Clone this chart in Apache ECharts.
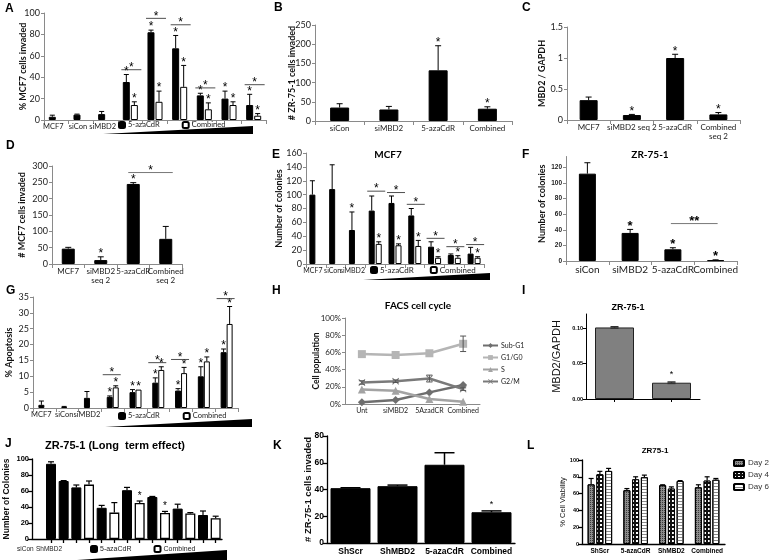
<!DOCTYPE html>
<html><head><meta charset="utf-8">
<script src="https://cdn.jsdelivr.net/npm/echarts@6/dist/echarts.min.js"></script>
<style>html,body{margin:0;padding:0;background:#fff}#c{width:771px;height:560px}</style>
</head><body><div id="c"></div>
<script>
// ================= DATA =================
const A_cats = ['MCF7','siCon','siMBD2','','','','','',''];
const A_aza = [3,5,5.5,35.5,82,67,23,20,14];
const A_azaErr = [1.5,0.5,2.5,7,2,12,2,7,10];
const A_azaSig = [0,0,0,1,1,1,1,1,1];
const A_comb = [null,null,null,14,17,31,10,14,4];
const A_combErr = [null,null,null,3,10,20,6,3,2];
const A_combSig = [0,0,0,1,1,1,1,1,1];
const A_pairSig = [[3,47],[4,95],[5,89],[6,30],[8,33]];
const B_cats = ['siCon','siMBD2','5-azaCdR','Combined'];
const B_vals = [35,30,132,32];
const B_err = [10,8,64,5];
const B_sig = [0,0,1,1];
const C_cats = ['MCF7','siMBD2 seq 2','5-azaCdR','Combined\nseq 2'];
const C_vals = [0.32,0.08,1.0,0.09];
const C_err = [0.05,0.01,0.06,0.03];
const C_sig = [0,1,1,1];
const D_cats = ['MCF7','siMBD2\nseq 2','5-azaCdR','Combined\nseq 2'];
const D_vals = [47,12,245,77];
const D_err = [4,10,4,38];
const D_sig = [0,1,1,0];
const D_bracket = [[2,3,280,'*']];
const E_cats = ['MCF7','siCon','siMBD2','','','','','',''];
const E_aza = [100,108,49,77,88,70,25,13,15];
const E_azaErr = [20,35,26,21,10,10,7,1.5,9];
const E_azaSig = [0,0,1,0,0,0,0,0,0];
const E_comb = [null,null,null,29,27,26,9,9,9];
const E_combErr = [null,null,null,3,2,8,1.5,3,1.5];
const E_combSig = [0,0,0,1,1,1,1,1,1];
const E_pairSig = [[3,105],[4,103],[5,86],[6,37],[7,25],[8,28]];
const F_cats = ['siCon','siMBD2','5-azaCdR','Combined'];
const F_vals = [112,36,15,1];
const F_err = [14,4.5,2,0.5];
const F_sig = [0,1,1,1];
const F_bracket = [[2,3,48,'**']];
const G_cats = ['MCF7','siCon','siMBD2','','','','','',''];
const G_aza = [1,0.3,3.2,3.5,5,8,5.5,10,17.6];
const G_azaErr = [1.2,0.2,2,0.3,0.8,1.5,0.6,3,1];
const G_azaSig = [0,0,0,1,1,1,1,1,1];
const G_comb = [null,null,null,6.5,5.8,12,11,14.7,26.5];
const G_combErr = [null,null,null,0.5,0,1,1.8,1.4,5.5];
const G_combSig = [0,0,0,1,1,1,1,1,1];
const G_pairSig = [[3,10.5],[5,14.3],[6,15.3],[8,34.5]];
const H_cats = ['Unt','siMBD2','5AzadCR','Combined'];
const H_subG1 = [2,4.6,13.5,22];
const H_G1G0 = [58,57,59,70];
const H_G1G0Err = [0,0,0,9];
const H_S = [17,15.4,5.8,2.7];
const H_G2M = [25,26.5,29.6,17.3];
const H_G2MErr = [2,1.5,4,1.5];
const I_cats = ['',''];
const I_vals = [0.101,0.023];
const I_err = [0.001,0.001];
const I_sig = [0,1];
const J_cats = ['','siCon','ShMBD2','','','','','','','','','','','',''];
const J_ctrl = [null,94,72.5,null,null,null,null,null,null,null,null,null,null,null,null];
const J_aza  = [null,null,null,64.5,null,39,null,61,null,52.5,null,38,null,30,null];
const J_comb = [null,null,null,null,68,null,33,null,45,null,32.5,null,32,null,26];
const J_err  = [null,2.5,0.5,3,4.5,3,12.5,3.5,2.5,0.7,2,5.5,1,5,2.5];
const J_sig  = [0,0,0,0,0,0,0,0,1,0,1,0,0,0,0];
const K_cats = ['ShScr','ShMBD2','5-azaCdR','Combined'];
const K_vals = [41,42.5,58.5,23];
const K_err = [0.3,0.8,9,1];
const K_sig = [0,0,0,1];
const L_cats = ['ShScr','5-azaCdR','ShMBD2','Combined'];
const L_day2 = [71,64,70,67.5];
const L_day2Err = [7,2,0.5,3];
const L_day4 = [83,77,66,75.5];
const L_day4Err = [3.5,3,2,4.5];
const L_day6 = [87,79.5,75,76.5];
const L_day6Err = [3,2.5,0.5,1.5];

// ================= HELPERS =================
const XF = 'Lato', AF = 'Liberation Sans', GRAY = '#8a8a8a';
const O = {animation:false, grid:[], xAxis:[], yAxis:[], series:[], legend:[], graphic:[]};
function yname(text, cx, cy, fs, ff, fw){
  O.graphic.push({type:'text', x:cx, y:cy, rotation:Math.PI/2, silent:true,
    style:{text, fontSize:fs, fontFamily:ff, fontWeight:fw, fill:'#111', align:'center', verticalAlign:'middle'}});
}
function panel(r, xa, ya, nm){
  const gi = O.grid.length;
  O.grid.push({left:r.x0, top:r.top, width:r.x1-r.x0, height:r.bottom-r.top, containLabel:false});
  O.xAxis.push(Object.assign({gridIndex:gi, type:'category'}, xa));
  O.yAxis.push(Object.assign({gridIndex:gi, type:'value', splitLine:{show:false}}, ya));
  if(nm) yname(nm.text, nm.x, (r.top+r.bottom)/2 + (nm.dy||0), nm.fs, nm.ff, nm.fw);
  return gi;
}
function xlX(data, fs, extra){
  return Object.assign({data, axisLine:{lineStyle:{color:GRAY}}, axisTick:{show:true,length:4,lineStyle:{color:GRAY}},
    axisLabel:{fontFamily:XF,fontSize:fs,color:'#222',margin:3,interval:0,lineHeight:fs+1}}, extra||{});
}
function xlY(max, interval, fs, extra){
  return Object.assign({min:0,max,interval, axisLine:{show:true,lineStyle:{color:GRAY}}, axisTick:{show:true,length:3,lineStyle:{color:GRAY}},
    axisLabel:{fontFamily:XF,fontSize:fs,color:'#222',margin:4}}, extra||{});
}
function gpX(data, fs, extra){
  return Object.assign({data, axisLine:{lineStyle:{color:'#000',width:1.3}}, axisTick:{show:true,length:4,alignWithLabel:true,lineStyle:{color:'#000',width:1.3}},
    axisLabel:{fontFamily:AF,fontWeight:'bold',fontSize:fs,color:'#000',margin:4,interval:0}}, extra||{});
}
function gpY(max, interval, fs, extra){
  return Object.assign({min:0,max,interval, axisLine:{show:true,lineStyle:{color:'#000',width:1.3}}, axisTick:{show:true,length:4,lineStyle:{color:'#000',width:1.3}},
    axisLabel:{fontFamily:AF,fontWeight:'bold',fontSize:fs,color:'#000',margin:3}}, extra||{});
}
function bar(gi, name, data, style, w, extra){
  O.series.push(Object.assign({type:'bar', name, xAxisIndex:gi, yAxisIndex:gi, data, barWidth:w, itemStyle:style, silent:true}, extra||{}));
}
const BLACK = {color:'#000', borderColor:'#000', borderWidth:1};
const WHITE = {color:'#fff', borderColor:'#000', borderWidth:1};
function errBars(gi, vals, errs, offset, o){
  o = o||{}; const cap=o.cap??2.5, lw=o.lw??1, both=!!o.both, color=o.color||'#000';
  const data=[]; vals.forEach((v,i)=>{ if(v!=null && errs[i]!=null && errs[i]>0) data.push([i,v,errs[i]]); });
  O.series.push({type:'custom', xAxisIndex:gi, yAxisIndex:gi, z:5, silent:true, data,
    renderItem(p, api){
      const i=api.value(0), v=api.value(1), e=api.value(2);
      const top=api.coord([i,v+e]), mid=api.coord([i,v]), bot=api.coord([i,v-e]);
      const x=mid[0]+offset, y0=both?bot[1]:mid[1];
      const st={stroke:color,lineWidth:lw};
      const ch=[{type:'line',shape:{x1:x,y1:y0,x2:x,y2:top[1]},style:st},
                {type:'line',shape:{x1:x-cap,y1:top[1],x2:x+cap,y2:top[1]},style:st}];
      if(both) ch.push({type:'line',shape:{x1:x-cap,y1:bot[1],x2:x+cap,y2:bot[1]},style:st});
      return {type:'group',children:ch};
    }});
}
function stars(gi, vals, errs, flags, offset, o){
  o=o||{}; const data=[];
  vals.forEach((v,i)=>{ if(flags[i] && v!=null) data.push([i, v+(errs[i]||0)]); });
  O.series.push({type:'custom', xAxisIndex:gi, yAxisIndex:gi, z:6, silent:true, data,
    renderItem(p, api){
      const c=api.coord([api.value(0), api.value(1)]);
      return {type:'text', x:c[0]+offset, y:c[1]-(o.gap??3),
        style:{text:o.text||'*', fontSize:o.fs||12, fontFamily:o.ff||AF, fontWeight:o.fw||'normal', fill:'#000', align:'center', verticalAlign:'middle'}};
    }});
}
function sigLines(gi, items, left, right, o){
  o=o||{};
  O.series.push({type:'custom', xAxisIndex:gi, yAxisIndex:gi, z:6, silent:true, data:items,
    renderItem(p, api){
      const c=api.coord([api.value(0), api.value(1)]);
      const x1=c[0]-left, x2=c[0]+right;
      return {type:'group', children:[
        {type:'line', shape:{x1,y1:c[1],x2,y2:c[1]}, style:{stroke:'#222',lineWidth:o.lw||0.8}},
        {type:'text', x:(x1+x2)/2, y:c[1]-(o.gap??2), style:{text:'*', fontSize:o.fs||12, fontFamily:AF, fill:'#000', align:'center', verticalAlign:'middle'}}]};
    }});
}
function brackets(gi, items, o){
  o=o||{};
  O.series.push({type:'custom', xAxisIndex:gi, yAxisIndex:gi, z:6, silent:true, data:items,
    renderItem(p, api){
      const a=api.coord([api.value(0), api.value(2)]), b=api.coord([api.value(1), api.value(2)]);
      const x1=a[0]-(o.l||5), x2=b[0]+(o.r||5);
      return {type:'group', children:[
        {type:'line', shape:{x1,y1:a[1],x2,y2:a[1]}, style:{stroke:o.color||'#555',lineWidth:0.8}},
        {type:'text', x:(x1+x2)/2, y:a[1]-(o.gap??2), style:{text:items[p.dataIndex][3], fontSize:o.fs||12, fontWeight:o.fw||'normal', fontFamily:AF, fill:'#000', align:'center', verticalAlign:'middle'}}]};
    }});
}
function legendAB(left, top, gap, fs, ff){
  O.legend.push({left, top, padding:0, itemWidth:6, itemHeight:6, itemGap:gap, selectedMode:false,
    data:['5-azaCdR','Combined'], textStyle:{fontFamily:ff||XF, fontSize:fs, color:'#222', padding:[0,0,0,-2]}});
}
function txt(text, x, y, fs, ff, fw, align, color){
  O.graphic.push({type:'text', x, y, silent:true,
    style:{text, fontSize:fs, fontFamily:ff, fontWeight:fw||'bold', fill:color||'#000', align:align||'left', verticalAlign:'top'}});
}
function wedge(x0, x1, yb, yt){
  O.graphic.push({type:'polygon', silent:true, shape:{points:[[x0,yb],[x1,yb],[x1,yt]]}, style:{fill:'#000'}});
}
const shiftL = {fontFamily:XF,color:'#222',margin:3,interval:0,padding:[0,6,0,0]};

// ================= PANEL A =================
let g = panel({x0:44,x1:266,top:13,bottom:120}, xlX(A_cats,7.5,{axisLabel:Object.assign({fontSize:7.5},shiftL)}), xlY(100,20,9),
  {text:'% MCF7 cells invaded', x:23, fs:9, ff:XF, fw:'bold'});
bar(g,'5-azaCdR',A_aza,BLACK,7,{barGap:'15%'});
bar(g,'Combined',A_comb,WHITE,7,{barGap:'15%'});
errBars(g,A_aza,A_azaErr,-4); errBars(g,A_comb,A_combErr,4);
stars(g,A_aza,A_azaErr,A_azaSig,-4); stars(g,A_comb,A_combErr,A_combSig,4);
sigLines(g,A_pairSig,9,11);
legendAB(118,121,22,7.5);
wedge(103,253,134,126);

// ================= PANEL B =================
g = panel({x0:315,x1:512,top:25,bottom:121}, xlX(B_cats,8), xlY(250,50,9),
  {text:'# ZR-75-1 cells invaded', x:292, fs:9, ff:XF, fw:'bold'});
bar(g,'B',B_vals,BLACK,19);
errBars(g,B_vals,B_err,0,{cap:3}); stars(g,B_vals,B_err,B_sig,0);

// ================= PANEL C =================
g = panel({x0:567,x1:740,top:27,bottom:120}, xlX(C_cats,8), xlY(1.5,0.5,9),
  {text:'MBD2 / GAPDH', x:542, fs:9, ff:XF, fw:'bold'});
bar(g,'C',C_vals,BLACK,18);
errBars(g,C_vals,C_err,0,{cap:3}); stars(g,C_vals,C_err,C_sig,0);

// ================= PANEL D =================
g = panel({x0:52,x1:182,top:166,bottom:264}, xlX(D_cats,8), xlY(300,50,9),
  {text:'# MCF7 cells invaded', x:22, fs:9, ff:XF, fw:'bold'});
bar(g,'D',D_vals,BLACK,13);
errBars(g,D_vals,D_err,0,{cap:3}); stars(g,D_vals,D_err,D_sig,0);
brackets(g,D_bracket,{l:5,r:7});

// ================= PANEL E =================
g = panel({x0:306,x1:484,top:153,bottom:264}, xlX(E_cats,7,{axisLabel:Object.assign({fontSize:7},shiftL)}), xlY(160,20,9),
  {text:'Number of colonies', x:279, fs:9, ff:XF, fw:'bold'});
bar(g,'5-azaCdR',E_aza,BLACK,6,{barGap:'17%'});
bar(g,'Combined',E_comb,WHITE,6,{barGap:'17%'});
errBars(g,E_aza,E_azaErr,-3.5); errBars(g,E_comb,E_combErr,3.5);
stars(g,E_aza,E_azaErr,E_azaSig,-3.5); stars(g,E_comb,E_combErr,E_combSig,3.5);
sigLines(g,E_pairSig,8,10);
legendAB(370,266,16,8);
wedge(363,490,280,273);

// ================= PANEL F =================
g = panel({x0:566,x1:737,top:156.5,bottom:261}, xlX(F_cats,10),
  xlY(134,20,6.5,{axisLabel:{fontFamily:AF,fontWeight:'bold',fontSize:6.5,color:'#222',margin:4,showMaxLabel:false}}),
  {text:'Number of colonies', x:542, fs:9, ff:XF, fw:'bold', dy:-5});
bar(g,'F',F_vals,BLACK,17);
errBars(g,F_vals,F_err,0,{cap:3}); stars(g,F_vals,F_err,F_sig,0,{fs:13,fw:'bold'});
brackets(g,F_bracket,{l:2,r:2,fs:13,fw:'bold'});

// ================= PANEL G =================
g = panel({x0:33,x1:238,top:297,bottom:408}, xlX(G_cats,7.5,{axisLabel:Object.assign({fontSize:7.5},shiftL)}), xlY(35,5,9),
  {text:'% Apoptosis', x:9, fs:9, ff:XF, fw:'bold'});
bar(g,'5-azaCdR',G_aza,BLACK,6,{barGap:'0%'});
bar(g,'Combined',G_comb,WHITE,6,{barGap:'0%'});
errBars(g,G_aza,G_azaErr,-3); errBars(g,G_comb,G_combErr,3);
stars(g,G_aza,G_azaErr,G_azaSig,-3); stars(g,G_comb,G_combErr,G_combSig,3);
sigLines(g,G_pairSig,10,8);
legendAB(118,412,23,7.5);
wedge(105,252,427,419);

// ================= PANEL H =================
g = panel({x0:345,x1:480,top:318,bottom:404}, xlX(H_cats,7,{axisTick:{show:false}}),
  xlY(1,0.2,8,{axisLabel:{fontFamily:XF,fontSize:8,color:'#222',margin:4,formatter:v=>Math.round(v*100)+'%'}}),
  {text:'Cell population', x:316, fs:8.5, ff:XF, fw:'bold'});
const pct = a => a.map(v=>v/100);
const Xsym = 'path://M0,1L1,0L5,4L9,0L10,1L6,5L10,9L9,10L5,6L1,10L0,9L4,5Z';
[['Sub-G1',H_subG1,'diamond',8,'#6e6e6e'],['G1/G0',H_G1G0,'rect',8,'#b5b5b5'],['S',H_S,'triangle',8,'#a3a3a3'],['G2/M',H_G2M,Xsym,7,'#7a7a7a']]
 .forEach(([n,d,sym,sz,col])=>{
  O.series.push({type:'line', name:n, xAxisIndex:g, yAxisIndex:g, data:pct(d), symbol:sym, symbolSize:sz, showAllSymbol:true,
    lineStyle:{color:col,width:2.5}, itemStyle:{color:col}, silent:true});
 });
errBars(g,pct(H_G1G0),pct(H_G1G0Err),0,{both:true,cap:3,color:'#555'});
errBars(g,pct(H_G2M),pct(H_G2MErr),0,{both:true,cap:3,color:'#555'});
O.legend.push({left:482, top:342, orient:'vertical', padding:0, itemWidth:15, itemHeight:6, itemGap:5, selectedMode:false,
  data:['Sub-G1','G1/G0','S','G2/M'], textStyle:{fontFamily:XF,fontSize:7,color:'#222',padding:[0,0,0,-2]}});

// ================= PANEL I =================
g = panel({x0:586,x1:700,top:314,bottom:399}, gpX(I_cats,6,{axisLine:{lineStyle:{color:'#000',width:1}},axisTick:{show:true,length:3,alignWithLabel:true,lineStyle:{color:'#000'}}}),
  gpY(0.12,0.05,5.5,{axisLine:{show:true,lineStyle:{color:'#000',width:1}},axisTick:{show:true,length:3,lineStyle:{color:'#000'}},
   axisLabel:{fontFamily:AF,fontWeight:'bold',fontSize:5.5,color:'#000',margin:3,showMaxLabel:false,formatter:v=>v.toFixed(2)}}),
  {text:'MBD2/GAPDH', x:557, fs:11, ff:AF, fw:'normal'});
bar(g,'I',I_vals,{color:'#808080',borderColor:'#222',borderWidth:1},39);
errBars(g,I_vals,I_err,0,{both:true,cap:4,lw:1.5,color:'#333'});
stars(g,I_vals,I_err,I_sig,0,{fs:9,gap:7});

// ================= PANEL J =================
g = panel({x0:32,x1:222,top:459,bottom:539},
  gpX(J_cats,7,{axisLabel:{show:false}, axisTick:{show:true,length:4,alignWithLabel:true,interval:(i)=>i>0,lineStyle:{color:'#000',width:1.3}}}),
  gpY(100,20,7.5), {text:'Number of Colonies', x:7, fs:8.5, ff:AF, fw:'bold'});
bar(g,'ctrl',J_ctrl,BLACK,10,{barGap:'-100%'});
bar(g,'5-azaCdR',J_aza,BLACK,10,{barGap:'-100%'});
bar(g,'Combined',J_comb,{color:'#fff',borderColor:'#000',borderWidth:1.3},10,{barGap:'-100%'});
const J_all = J_ctrl.map((v,i)=> v!=null? v : (J_aza[i]!=null? J_aza[i] : J_comb[i]));
errBars(g,J_all,J_err,0,{cap:3,lw:1.2});
stars(g,J_all,J_err,J_sig,0,{fs:10,gap:5});
legendAB(90,545,22,7,AF);
wedge(77,227,560,550);

// ================= PANEL K =================
g = panel({x0:327,x1:515,top:436,bottom:543}, gpX(K_cats,8.5,{axisTick:{show:false}}), gpY(80,20,8.5),
  {text:'# ZR-75-1 cells invaded', x:308, fs:9.5, ff:AF, fw:'bold'});
bar(g,'K',K_vals,BLACK,40);
errBars(g,K_vals,K_err,0,{cap:10,lw:1.5});
stars(g,K_vals,K_err,K_sig,0,{fs:9,gap:6});

// ================= PANEL L =================
g = panel({x0:582,x1:725,top:460,bottom:544}, gpX(L_cats,6.5,{axisTick:{show:false}}), gpY(100,20,5.5),
  {text:'% Cell Viability', x:563, fs:7.5, ff:AF, fw:'normal'});
const decal2 = {color:'#3a3a3a', symbol:'rect', symbolSize:1, dashArrayX:[1,1], dashArrayY:[1,1]};
const decal4 = {color:'#ffffff', symbol:'rect', symbolSize:1, dashArrayX:[2,2], dashArrayY:[2,2]};
const decal6 = {color:'#8a8a8a', symbol:'rect', symbolSize:1, dashArrayX:[1,0], dashArrayY:[1,2]};
bar(g,'Day 2',L_day2,{color:'#8c8c8c',borderColor:'#000',borderWidth:1,decal:decal2},7,{barGap:'25%'});
bar(g,'Day 4',L_day4,{color:'#111',borderColor:'#000',borderWidth:1,decal:decal4},7,{barGap:'25%'});
bar(g,'Day 6',L_day6,{color:'#fff',borderColor:'#000',borderWidth:1,decal:decal6},7,{barGap:'25%'});
errBars(g,L_day2,L_day2Err,-8.75,{cap:2.5,lw:1.2});
errBars(g,L_day4,L_day4Err,0,{cap:2.5,lw:1.2});
errBars(g,L_day6,L_day6Err,8.75,{cap:2.5,lw:1.2});
O.legend.push({left:733, top:459, orient:'vertical', padding:0, itemWidth:10, itemHeight:6, itemGap:4, selectedMode:false,
  data:['Day 2','Day 4','Day 6'], textStyle:{fontFamily:AF,fontSize:8,color:'#333',padding:[0,0,0,-1]}});

// ================= TEXT: letters & titles =================
[['A',5,3],['B',274,2],['C',522,2],['D',6,140],['E',272,149],['F',522,149],['G',6,285],['H',272,285],['I',522,285],['J',5,438],['K',273,440],['L',527,440]]
  .forEach(([t,x,y])=>txt(t,x,y,12,AF,'bold'));
txt('MCF7',388,150,10,XF,'bold','center');
txt('ZR-75-1',650,150,10,XF,'bold','center');
txt('FACS cell cycle',418,301,10,XF,'bold','center');
txt('ZR-75-1',628,303,9,AF,'bold','center');
txt('ZR-75-1 (Long  term effect)',115,440,11,AF,'bold','center');
txt('ZR75-1',655,447,8,AF,'bold','center');
txt(J_cats[1],17,546,6.5,AF,'normal','left','#222');
txt(J_cats[2],36,546,6.5,AF,'normal','left','#222');

const chart = echarts.init(document.getElementById('c'));
chart.setOption(O);
</script></body></html>
